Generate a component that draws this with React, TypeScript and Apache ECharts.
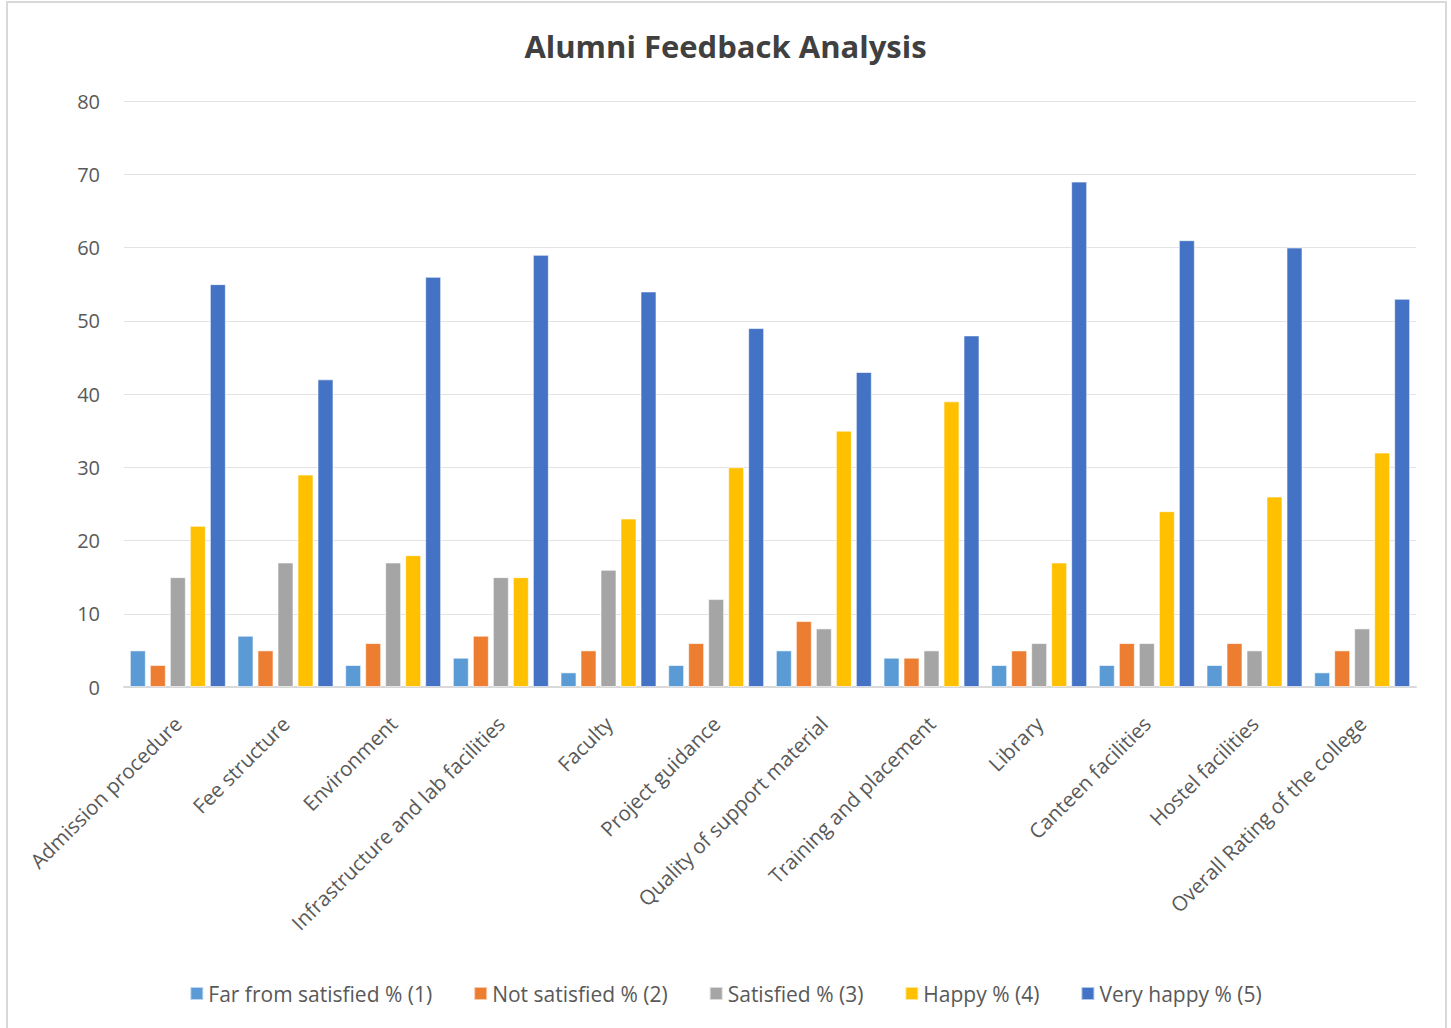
import React, { useEffect, useRef } from "react";
import * as echarts from "echarts";

const categories = [
  "Admission procedure",
  "Fee structure",
  "Environment",
  "Infrastructure and lab facilities",
  "Faculty",
  "Project guidance",
  "Quality of support material",
  "Training and placement",
  "Library",
  "Canteen facilities",
  "Hostel facilities",
  "Overall Rating of the college",
];

const seriesNames = [
  "Far from satisfied % (1)",
  "Not satisfied % (2)",
  "Satisfied % (3)",
  "Happy % (4)",
  "Very happy % (5)",
];

const farFromSatisfied = [5, 7, 3, 4, 2, 3, 5, 4, 3, 3, 3, 2];
const notSatisfied = [3, 5, 6, 7, 5, 6, 9, 4, 5, 6, 6, 5];
const satisfied = [15, 17, 17, 15, 16, 12, 8, 5, 6, 6, 5, 8];
const happy = [22, 29, 18, 15, 23, 30, 35, 39, 17, 24, 26, 32];
const veryHappy = [55, 42, 56, 59, 54, 49, 43, 48, 69, 61, 60, 53];

const colors = ["#5B9BD5", "#ED7D31", "#A5A5A5", "#FFC000", "#4472C4"];

const FONT = "'Open Sans', 'Noto Sans', sans-serif";

export default function App() {
  const ref = useRef<HTMLDivElement>(null);
  useEffect(() => {
    if (!ref.current) return;
    const chart = echarts.init(ref.current, null, { renderer: "svg" });
    const all = [farFromSatisfied, notSatisfied, satisfied, happy, veryHappy];
    chart.setOption({
      animation: false,
      backgroundColor: "#ffffff",
      title: {
        text: "Alumni Feedback Analysis",
        left: "center",
        top: 25,
        textStyle: {
          fontFamily: FONT,
          fontSize: 31,
          fontWeight: "bold",
          color: "#404040",
        },
      },
      graphic: [
        {
          type: "rect",
          shape: { x: 7, y: 2, width: 1439, height: 1040 },
          style: { fill: "none", stroke: "#d9d9d9", lineWidth: 2 },
          silent: true,
        },
      ],
      legend: {
        bottom: 19,
        left: "center",
        itemWidth: 13,
        itemHeight: 13,
        itemGap: 41,
        icon: "rect",
        data: seriesNames,
        textStyle: { fontFamily: FONT, fontSize: 21, color: "#595959" },
      },
      grid: { left: 124, right: 35, top: 101, bottom: 341, containLabel: false },
      xAxis: {
        type: "category",
        data: categories,
        axisLine: { lineStyle: { color: "#d9d9d9", width: 2 } },
        axisTick: { show: false },
        axisLabel: {
          rotate: 45,
          interval: 0,
          margin: 33,
          fontFamily: FONT,
          fontSize: 20.5,
          color: "#595959",
        },
      },
      yAxis: {
        type: "value",
        min: 0,
        max: 80,
        interval: 10,
        axisLine: { show: false },
        axisTick: { show: false },
        splitLine: { lineStyle: { color: "#e3e3e3", width: 1 } },
        axisLabel: {
          margin: 24,
          fontFamily: FONT,
          fontSize: 20,
          color: "#595959",
        },
      },
      series: all.map((d, i) => ({
        name: seriesNames[i],
        type: "bar",
        data: d,
        barWidth: 16,
        barGap: "25%",
        itemStyle: {
          color: colors[i],
          borderColor: "rgba(255,255,255,0.6)",
          borderWidth: 1,
        },
      })),
    });
    return () => chart.dispose();
  }, []);
  return (
    <div
      ref={ref}
      style={{ position: "absolute", left: 0, top: 0, width: 1451, height: 1028 }}
    />
  );
}
